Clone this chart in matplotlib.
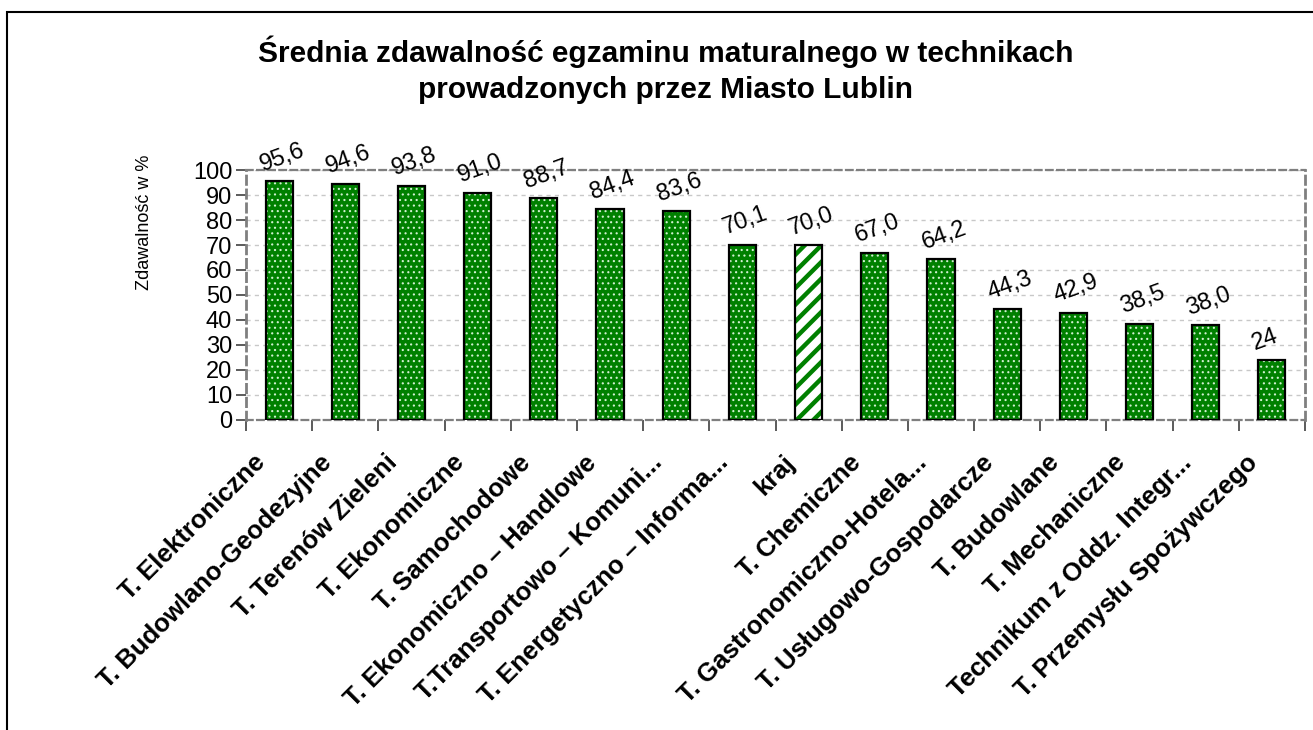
import matplotlib
matplotlib.use("Agg")
import matplotlib.pyplot as plt
from matplotlib.patches import Rectangle
from matplotlib.ticker import FixedLocator
from matplotlib.transforms import ScaledTranslation
import numpy as np

plt.rcParams['font.family'] = ['Liberation Sans', 'DejaVu Sans']

# Szkoły (technika) i średnia zdawalność matury w %
schools = [
    "T. Elektroniczne",
    "T. Budowlano-Geodezyjne",
    "T. Terenów Zieleni",
    "T. Ekonomiczne",
    "T. Samochodowe",
    "T. Ekonomiczno – Handlowe",
    "T.Transportowo – Komuni...",
    "T. Energetyczno – Informa...",
    "kraj",
    "T. Chemiczne",
    "T. Gastronomiczno-Hotela...",
    "T. Usługowo-Gospodarcze",
    "T. Budowlane",
    "T. Mechaniczne",
    "Technikum z Oddz. Integr...",
    "T. Przemysłu Spożywczego",
]
pass_rates = [95.6, 94.6, 93.8, 91.0, 88.7, 84.4, 83.6, 70.1, 70.0, 67.0,
              64.2, 44.3, 42.9, 38.5, 38.0, 24]
value_labels = ["95,6", "94,6", "93,8", "91,0", "88,7", "84,4", "83,6", "70,1",
                "70,0", "67,0", "64,2", "44,3", "42,9", "38,5", "38,0", "24"]
y_ticks = list(range(0, 101, 10))

green = "#008000"
bar_w = 0.41

fig = plt.figure(figsize=(13.13, 7.30), dpi=100)
ax = fig.add_axes([0.1874, 0.4247, 0.8065, 0.3424])

x = np.arange(len(schools))
for i, v in enumerate(pass_rates):
    if schools[i] == "kraj":
        # national average: white bar with thick green diagonal stripes
        with plt.rc_context({"hatch.linewidth": 3.2}):
            ax.bar(x[i], v, bar_w, color="white", edgecolor=green,
                   hatch="//", linewidth=0, zorder=2)
    else:
        with plt.rc_context({"hatch.linewidth": 0.8}):
            ax.bar(x[i], v, bar_w, color=green, edgecolor="#d0f0d0",
                   hatch="...", linewidth=0, zorder=2)
    # black outline on top of the pattern
    ax.bar(x[i], v, bar_w, fill=False, edgecolor="black", linewidth=1.6, zorder=3)

# value labels, slightly tilted, starting at the left edge of each bar
for i, v in enumerate(pass_rates):
    ax.annotate(value_labels[i], (x[i] - bar_w / 2, v), xytext=(-1, 4),
                textcoords="offset points", ha="left", va="bottom",
                rotation=20, rotation_mode="anchor", fontsize=17,
                annotation_clip=False)

ax.set_xlim(-0.5, len(schools) - 0.5)
ax.set_ylim(0, 100)
ax.set_yticks(y_ticks)
ax.tick_params(axis="y", labelsize=17, length=7, width=1.2, color="#404040",
               direction="out", pad=3)
ax.set_ylabel("Zdawalność w %", fontsize=13)
ax.yaxis.set_label_coords(-0.088, 0.79)

ax.set_xticks(x)
ax.set_xticklabels(schools, rotation=45, ha="right", rotation_mode="anchor",
                   fontsize=18.5, fontweight="bold")
ax.tick_params(axis="x", which="major", length=0, pad=22)
shift = ScaledTranslation(-0.26, 0, fig.dpi_scale_trans)
for lab in ax.get_xticklabels():
    lab.set_transform(lab.get_transform() + shift)
ax.xaxis.set_minor_locator(FixedLocator(np.arange(-0.5, len(schools), 1.0)))
ax.tick_params(axis="x", which="minor", length=8, width=1.2, color="#404040",
               direction="out")

ax.grid(axis="y", color="#c8c8c8", linestyle=(0, (3, 3)), linewidth=1.0, zorder=0)
ax.set_axisbelow(True)
for side, sp in ax.spines.items():
    sp.set_color("#7f7f7f")
    sp.set_linestyle((0, (3, 2)))
    sp.set_linewidth(2.0 if side in ("left", "right") else 1.6)

fig.text(0.507, 1 - 36 / 730,
         "Średnia zdawalność egzaminu maturalnego w technikach\nprowadzonych przez Miasto Lublin",
         ha="center", va="top", fontsize=21.5, fontweight="bold", linespacing=1.32)

# outer frame of the chart area
fig.patches.append(Rectangle((7 / 1313, -0.2), 1.5, 1.2 - 12 / 730,
                             transform=fig.transFigure, fill=False,
                             edgecolor="black", linewidth=1.5))

fig.savefig("out.png", dpi=100)
